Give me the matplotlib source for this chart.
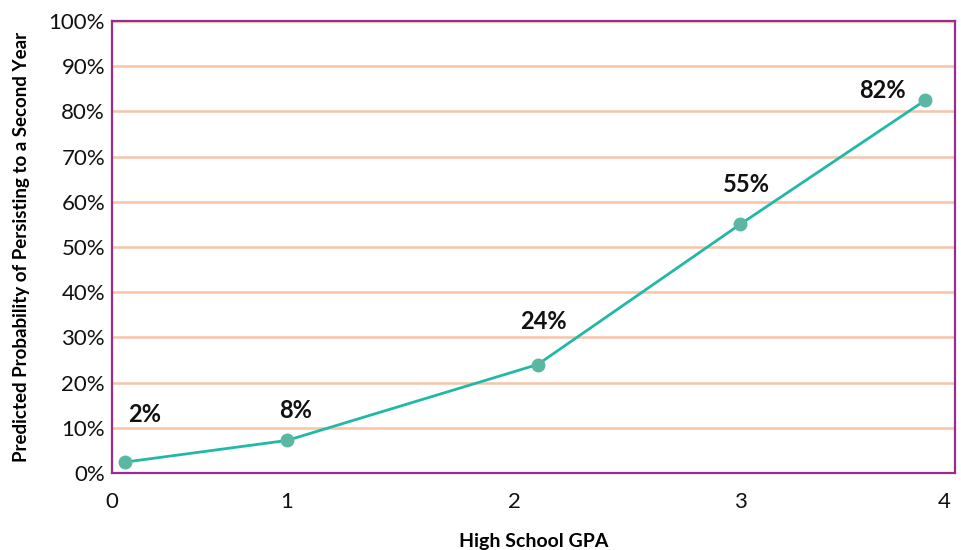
import matplotlib
matplotlib.use("Agg")
import matplotlib.pyplot as plt
from matplotlib.ticker import FuncFormatter

# data
gpa_pos = [0.06, 0.83, 2.02, 2.98, 3.86]
prob = [2.4, 7.2, 24, 55, 82.5]
point_labels = ["2%", "8%", "24%", "55%", "82%"]
xtick_pos = [0.0, 0.83, 1.91, 2.98, 3.95]
xtick_labels = ["0", "1", "2", "3", "4"]

# label offsets in pixels (dx, dy)
label_offsets = [(20, 48), (9, 30), (6, 43), (6, 40), (-43, 10)]

plt.rcParams['font.family'] = ['Lato', 'DejaVu Sans']

purple = '#9B2C8F'
grid_col = '#F8C4A8'
line_col = '#22B8A8'
marker_col = '#5BB6A2'

fig = plt.figure(figsize=(9.62, 5.5), dpi=100)
ax = fig.add_axes([112/962, 77/550, 843/962, 452/550])

ax.set_xlim(0, 4)
ax.set_ylim(0, 100)

ax.set_yticks(range(0, 101, 10))
ax.yaxis.set_major_formatter(FuncFormatter(lambda v, p: f"{int(v)}%"))
ax.set_xticks(xtick_pos)
ax.set_xticklabels(xtick_labels)

ax.grid(axis='y', color=grid_col, linewidth=1.8)
ax.set_axisbelow(True)
ax.tick_params(length=0, labelsize=16, colors='#111111')
ax.tick_params(axis='x', pad=14)
ax.tick_params(axis='y', pad=5)

for s in ax.spines.values():
    s.set_color(purple)
    s.set_linewidth(1.6)

ax.plot(gpa_pos, prob, color=line_col, linewidth=2, zorder=3)
ax.plot(gpa_pos, prob, 'o', color=marker_col, markersize=9, zorder=4)

for x, y, t, (dx, dy) in zip(gpa_pos, prob, point_labels, label_offsets):
    ax.annotate(t, (x, y), xytext=(dx * 0.72, dy * 0.72), textcoords='offset points',
                ha='center', va='center', fontsize=17, fontweight='bold', color='#111111')

ax.set_xlabel('High School GPA', fontsize=14, fontweight='bold', labelpad=15)
ax.set_ylabel('Predicted Probability of Persisting to a Second Year', fontsize=13.5,
              fontweight='bold')
ax.yaxis.set_label_coords(-82/843, 0.5)

fig.savefig('out.png', dpi=100)
